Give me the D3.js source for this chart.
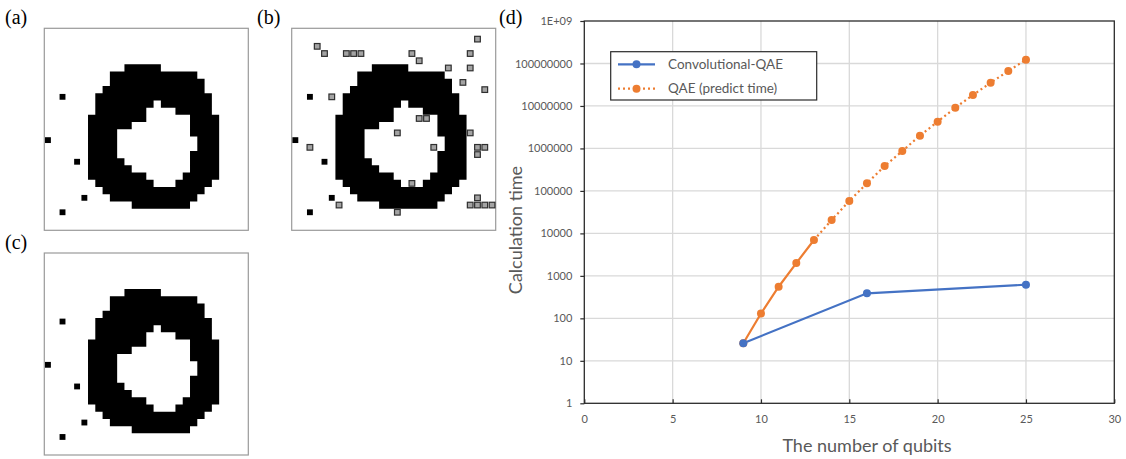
<!DOCTYPE html>
<html>
<head>
<meta charset="utf-8">
<script src="https://cdn.jsdelivr.net/npm/d3@7"></script>
<style>
  body { margin: 0; background: #fff; }
  svg { display: block; }
</style>
</head>
<body>
<div id="chart"></div>
<script>
// ---- pixel panels (28 x 28 grid) ----
// ring rows: [row, firstCol, lastCol]
var ringOuter = [
  [5, 11, 15], [6, 9, 20], [7, 9, 21], [8, 8, 21], [9, 7, 22], [10, 7, 22], [11, 7, 22],
  [12, 6, 23], [13, 6, 23], [14, 6, 23], [15, 6, 23], [16, 6, 23], [17, 6, 23], [18, 6, 23],
  [19, 6, 23], [20, 6, 23], [21, 7, 22], [22, 8, 21], [23, 9, 20], [24, 12, 19]
];
var ringHole = [
  [10, 15, 15], [11, 14, 17], [12, 14, 19], [13, 12, 19], [14, 10, 19], [15, 10, 20],
  [16, 10, 20], [17, 10, 19], [18, 11, 19], [19, 12, 19], [20, 14, 18], [21, 15, 17]
];
// isolated black pixels [col, row]
var blackDots = [[2, 9], [0, 15], [4, 18], [5, 23], [2, 25]];
// noise pixels in (b) [col, row]
var noiseDots = [
  [3, 2], [4, 3], [7, 3], [8, 3], [9, 3], [16, 3], [17, 4], [25, 1], [24, 3], [21, 5],
  [24, 5], [23, 7], [26, 8], [5, 9], [17, 12], [18, 12], [14, 14], [24, 14], [2, 16],
  [19, 16], [25, 16], [26, 16], [25, 17], [16, 21], [6, 24], [14, 25], [25, 23], [24, 24],
  [25, 24], [26, 24], [27, 24]
];

// ---- chart (d) data ----
var qaeQubits = [9, 10, 11, 12, 13, 14, 15, 16, 17, 18, 19, 20, 21, 22, 23, 24, 25];
var qaeTime = [26, 130, 555, 2000, 7000, 20600, 57800, 151000, 385000, 869000,
               2000000, 4260000, 9100000, 18100000, 35200000, 66500000, 123000000];
var qaeMeasuredUpTo = 13;   // solid segment up to here, dotted (predicted) after
var convQubits = [9, 16, 25];
var convTime = [26, 388, 620];
var xTicks = [0, 5, 10, 15, 20, 25, 30];
var yTicks = [1, 10, 100, 1000, 10000, 100000, 1000000, 10000000, 100000000, 1000000000];
var seriesNames = ["Convolutional-QAE", "QAE (predict time)"];

var svg = d3.select("#chart").append("svg")
    .attr("width", 1126)
    .attr("height", 459);

function drawPanel(x0, y0, withNoise) {
  var g = svg.append("g").attr("transform", "translate(" + x0 + "," + y0 + ")");
  var cx = d3.scaleBand().domain(d3.range(29)).range([0, 204 * 29 / 28]);
  var cy = d3.scaleBand().domain(d3.range(29)).range([0, 202 * 29 / 28]);
  var cw = cx.bandwidth(), ch = cy.bandwidth();

  g.append("rect")
    .attr("x", 0).attr("y", 0).attr("width", 204).attr("height", 202)
    .attr("fill", "#fff").attr("stroke", "#9a9a9a").attr("stroke-width", 1.2);

  // ring as one path: each row is outer span minus hole span
  var p = d3.path();
  function addRun(row, c0, c1) {
    var xa = cx(c0), xb = cx(c1 + 1), ya = cy(row), yb = cy(row + 1);
    p.moveTo(xa, ya); p.lineTo(xb, ya); p.lineTo(xb, yb); p.lineTo(xa, yb); p.closePath();
  }
  ringOuter.forEach(function(r) {
    var h = ringHole.filter(function(k) { return k[0] === r[0]; })[0];
    if (h) {
      addRun(r[0], r[1], h[1] - 1);
      addRun(r[0], h[2] + 1, r[2]);
    } else {
      addRun(r[0], r[1], r[2]);
    }
  });
  g.append("path").attr("d", p.toString()).attr("fill", "#000");

  g.selectAll("rect.dot").data(blackDots).enter().append("rect")
    .attr("class", "dot")
    .attr("x", function(d) { return cx(d[0]) + 0.7; })
    .attr("y", function(d) { return cy(d[1]) + 0.7; })
    .attr("width", cw - 1.4)
    .attr("height", ch - 1.4)
    .attr("fill", "#000");

  if (withNoise) {
    g.selectAll("rect.noise").data(noiseDots).enter().append("rect")
      .attr("class", "noise")
      .attr("x", function(d) { return cx(d[0]) + 0.8; })
      .attr("y", function(d) { return cy(d[1]) + 0.8; })
      .attr("width", cw - 1.6)
      .attr("height", ch - 1.6)
      .attr("fill", "#a3a3a3")
      .attr("stroke", "#2f2f2f")
      .attr("stroke-width", 1.2);
  }
}

drawPanel(44.3, 28.3, false);
drawPanel(291.7, 28.3, true);
drawPanel(44.3, 253, false);

// panel letters
var letters = [["(a)", 5, 24], ["(b)", 257, 24], ["(c)", 5, 249], ["(d)", 499, 24]];
svg.selectAll("text.letter").data(letters).enter().append("text")
  .attr("class", "letter")
  .attr("x", function(d) { return d[1]; })
  .attr("y", function(d) { return d[2]; })
  .attr("font-family", "'Liberation Serif', serif")
  .attr("font-size", 20)
  .attr("fill", "#000")
  .text(function(d) { return d[0]; });

// ---- chart (d) ----
var plotLeft = 584.3, plotRight = 1114.3, plotTop = 21, plotBottom = 403.3;
var x = d3.scaleLinear().domain([0, 30]).range([plotLeft, plotRight]);
var y = d3.scaleLog().domain([1, 1e9]).range([plotBottom, plotTop]);

var grid = svg.append("g");
grid.selectAll("line.gx").data(xTicks.slice(1, -1)).enter().append("line")
  .attr("x1", function(d) { return x(d); }).attr("x2", function(d) { return x(d); })
  .attr("y1", plotTop).attr("y2", plotBottom)
  .attr("stroke", "#d9d9d9").attr("stroke-width", 1.3);
grid.selectAll("line.gy").data(yTicks.slice(1, -1)).enter().append("line")
  .attr("x1", plotLeft).attr("x2", plotRight)
  .attr("y1", function(d) { return y(d); }).attr("y2", function(d) { return y(d); })
  .attr("stroke", "#d9d9d9").attr("stroke-width", 1.3);

svg.append("rect")
  .attr("x", plotLeft).attr("y", plotTop)
  .attr("width", plotRight - plotLeft).attr("height", plotBottom - plotTop)
  .attr("fill", "none").attr("stroke", "#2b2b2b").attr("stroke-width", 1.3);

var yAxis = svg.append("g")
  .attr("transform", "translate(" + plotLeft + ",0)")
  .call(d3.axisLeft(y).tickValues(yTicks).tickSize(4).tickPadding(8)
    .tickFormat(function(d) { return d === 1e9 ? "1E+09" : d3.format("d")(d); }));
var xAxis = svg.append("g")
  .attr("transform", "translate(0," + plotBottom + ")")
  .call(d3.axisBottom(x).tickValues(xTicks).tickSize(-4).tickPadding(12));

[yAxis, xAxis].forEach(function(a) {
  a.select(".domain").remove();
  a.selectAll(".tick line").attr("stroke", "#2b2b2b").attr("stroke-width", 1.2);
  a.selectAll(".tick text")
    .attr("font-family", "Lato, sans-serif")
    .attr("font-size", 11)
    .attr("fill", "#595959");
});

// axis titles
svg.append("text")
  .attr("x", 867).attr("y", 452)
  .attr("text-anchor", "middle")
  .attr("font-family", "Lato, sans-serif")
  .attr("font-size", 18)
  .attr("fill", "#595959")
  .text("The number of qubits");
svg.append("text")
  .attr("transform", "translate(522,230) rotate(-90)")
  .attr("text-anchor", "middle")
  .attr("font-family", "Lato, sans-serif")
  .attr("font-size", 18)
  .attr("fill", "#595959")
  .text("Calculation time");

// lines
var lineGen = d3.line()
  .x(function(d) { return x(d[0]); })
  .y(function(d) { return y(d[1]); });

var convData = convQubits.map(function(q, i) { return [q, convTime[i]]; });
var qaeData = qaeQubits.map(function(q, i) { return [q, qaeTime[i]]; });

svg.append("path").datum(qaeData.filter(function(d) { return d[0] >= qaeMeasuredUpTo; }))
  .attr("d", lineGen)
  .attr("fill", "none").attr("stroke", "#ED7D31").attr("stroke-width", 2.2)
  .attr("stroke-dasharray", "2,3");
svg.append("path").datum(qaeData.filter(function(d) { return d[0] <= qaeMeasuredUpTo; }))
  .attr("d", lineGen)
  .attr("fill", "none").attr("stroke", "#ED7D31").attr("stroke-width", 2.2);
svg.append("path").datum(convData)
  .attr("d", lineGen)
  .attr("fill", "none").attr("stroke", "#4472C4").attr("stroke-width", 2.2);

svg.selectAll("circle.qae").data(qaeData).enter().append("circle")
  .attr("class", "qae")
  .attr("cx", function(d) { return x(d[0]); })
  .attr("cy", function(d) { return y(d[1]); })
  .attr("r", 4)
  .attr("fill", "#ED7D31");
svg.selectAll("circle.conv").data(convData).enter().append("circle")
  .attr("class", "conv")
  .attr("cx", function(d) { return x(d[0]); })
  .attr("cy", function(d) { return y(d[1]); })
  .attr("r", 4)
  .attr("fill", "#4472C4");

// legend
var legend = svg.append("g");
legend.append("rect")
  .attr("x", 610.7).attr("y", 51.7).attr("width", 206).attr("height", 48.3)
  .attr("fill", "#fff").attr("stroke", "#2b2b2b").attr("stroke-width", 1.2);
var legColors = ["#4472C4", "#ED7D31"];
var legDash = [null, "2,3"];
seriesNames.forEach(function(name, i) {
  var ly = 64.3 + i * 24.4;
  legend.append("line")
    .attr("x1", 618).attr("x2", 655).attr("y1", ly).attr("y2", ly)
    .attr("stroke", legColors[i]).attr("stroke-width", 2.2)
    .attr("stroke-dasharray", legDash[i]);
  legend.append("circle")
    .attr("cx", 636.5).attr("cy", ly).attr("r", 4).attr("fill", legColors[i]);
  legend.append("text")
    .attr("x", 668).attr("y", ly)
    .attr("dy", "0.35em")
    .attr("font-family", "Lato, sans-serif")
    .attr("font-size", 13.5)
    .attr("fill", "#595959")
    .text(name);
});
</script>
</body>
</html>
